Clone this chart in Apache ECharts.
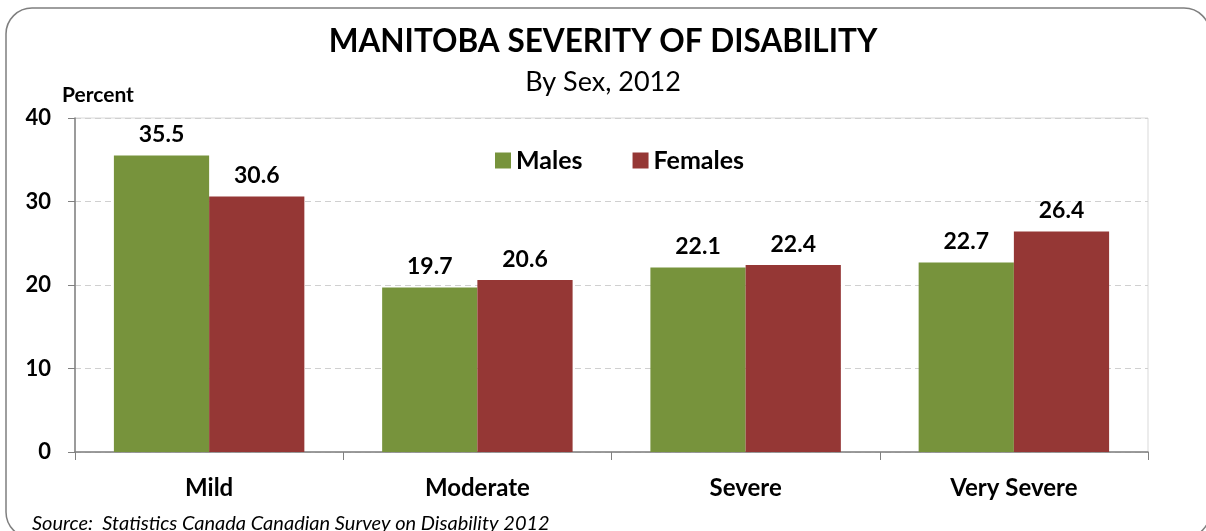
<!DOCTYPE html>
<html><head><meta charset="utf-8">
<script src="https://cdn.jsdelivr.net/npm/echarts@6/dist/echarts.min.js"></script>
<style>html,body{margin:0;padding:0;background:#fff}#c{width:1206px;height:531px}</style>
</head><body><div id="c"></div>
<script>
var categories = ['Mild', 'Moderate', 'Severe', 'Very Severe'];
var males = [35.5, 19.7, 22.1, 22.7];
var females = [30.6, 20.6, 22.4, 26.4];
var yTicks = [0, 10, 20, 30, 40];

var FONT = 'Lato, "Open Sans", sans-serif';
var chart = echarts.init(document.getElementById('c'), null, {renderer: 'canvas'});
var labelStyle = {show: true, position: 'top', distance: 9, formatter: function(p){return p.value.toFixed(1);}, fontFamily: FONT, fontWeight: 'bold', fontSize: 23, color: '#000'};
chart.setOption({
  animation: false,
  graphic: [{
    type: 'rect', shape: {x: 6, y: 8, width: 1204, height: 530, r: 26},
    style: {fill: 'none', stroke: '#7f7f7f', lineWidth: 1.5}, z: -1
  }, {
    type: 'rect', shape: {x: 75, y: 118, width: 1073, height: 334},
    style: {fill: 'none', stroke: '#d9d9d9', lineWidth: 1}, z: -1
  }],
  title: [{
    text: 'MANITOBA SEVERITY OF DISABILITY', left: 'center', top: 21,
    textStyle: {fontFamily: FONT, fontWeight: 'bold', fontSize: 31.5, color: '#000'}
  }, {
    text: 'By Sex, 2012', left: 'center', top: 64,
    textStyle: {fontFamily: FONT, fontWeight: 'normal', fontSize: 27, color: '#000'}
  }, {
    text: 'Percent', left: 57, top: 80,
    textStyle: {fontFamily: FONT, fontWeight: 'bold', fontSize: 21, color: '#000'}
  }, {
    text: 'Source:  Statistics Canada Canadian Survey on Disability 2012', left: 27, top: 509,
    textStyle: {fontFamily: FONT, fontStyle: 'italic', fontWeight: 'normal', fontSize: 20, color: '#000'}
  }],
  legend: {
    data: ['Males', 'Females'], left: 490, top: 143, itemWidth: 16, itemHeight: 16, itemGap: 50,
    icon: 'rect', textStyle: {fontFamily: FONT, fontWeight: 'bold', fontSize: 25, color: '#000'}
  },
  grid: {left: 75, right: 58, top: 118, bottom: 79, containLabel: false},
  xAxis: {
    type: 'category', data: categories,
    axisLine: {lineStyle: {color: '#808080', width: 1.5}},
    axisTick: {show: true, alignWithLabel: false, length: 8, lineStyle: {color: '#808080'}},
    axisLabel: {fontFamily: FONT, fontWeight: 'bold', fontSize: 24, color: '#000', margin: 24}
  },
  yAxis: {
    type: 'value', min: yTicks[0], max: yTicks[yTicks.length-1], interval: 10,
    axisLine: {show: true, lineStyle: {color: '#808080', width: 1.5}},
    axisTick: {show: true, length: 7, inside: false, lineStyle: {color: '#808080'}},
    splitLine: {lineStyle: {color: '#d0d0d0', type: [6, 4]}},
    axisLabel: {fontFamily: FONT, fontWeight: 'bold', fontSize: 22, color: '#000', margin: 24}
  },
  series: [{
    name: 'Males', type: 'bar', data: males, barGap: '0%', barCategoryGap: '29%',
    itemStyle: {color: '#77933C'}, label: labelStyle
  }, {
    name: 'Females', type: 'bar', data: females,
    itemStyle: {color: '#953735'}, label: labelStyle
  }]
});
</script></body></html>
